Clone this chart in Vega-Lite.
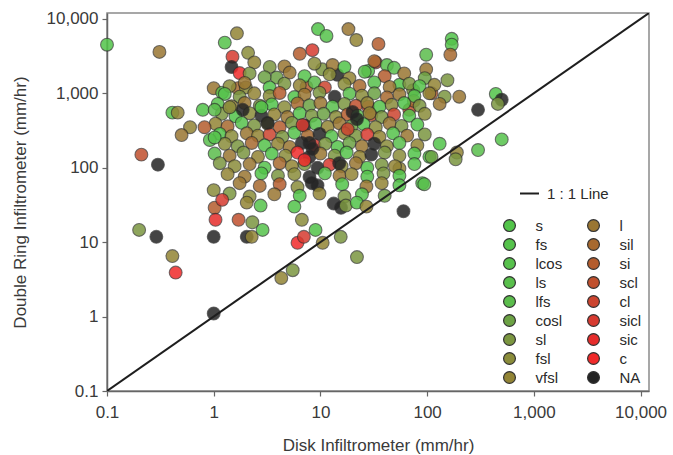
{
  "$schema": "https://vega.github.io/schema/vega-lite/v6.json",
  "width": 542,
  "height": 378,
  "autosize": {"type": "none"},
  "padding": {"left": 107, "top": 13, "right": 24, "bottom": 64},
  "background": "white",
  "config": {
    "font": "Liberation Sans",
    "view": {"stroke": "#8a8a8a", "strokeWidth": 1.5},
    "axis": {"grid": false, "domainColor": "#666", "domainWidth": 1.5, "tickColor": "#666", "tickWidth": 1.2, "tickSize": 5, "labelFont": "Liberation Sans", "labelFontSize": 17, "labelColor": "#3a3a3a", "titleFont": "Liberation Sans", "titleFontSize": 17, "titleFontWeight": "normal", "titleColor": "#3a3a3a"}
  },
  "datasets": {
    "pts": [
      {"disk":0.1,"ring":4500,"texture":"s"},{"disk":0.31,"ring":3600,"texture":"l"},{"disk":1.27,"ring":4800,"texture":"fs"},{"disk":1.65,"ring":6400,"texture":"vfsl"},{"disk":1.5,"ring":3100,"texture":"sicl"},{"disk":2.1,"ring":3500,"texture":"fsl"},{"disk":6.4,"ring":3400,"texture":"si"},{"disk":8.4,"ring":3800,"texture":"sicl"},{"disk":9.5,"ring":7300,"texture":"s"},{"disk":11.4,"ring":5900,"texture":"fs"},{"disk":18.3,"ring":7300,"texture":"l"},{"disk":21.7,"ring":5200,"texture":"vfsl"},{"disk":35,"ring":4600,"texture":"si"},{"disk":33,"ring":2600,"texture":"cl"},{"disk":42,"ring":2400,"texture":"ls"},{"disk":98,"ring":3300,"texture":"lfs"},{"disk":98,"ring":2100,"texture":"l"},{"disk":170,"ring":5400,"texture":"s"},{"disk":170,"ring":4500,"texture":"fs"},{"disk":165,"ring":3300,"texture":"sil"},{"disk":155,"ring":1500,"texture":"sl"},{"disk":1.47,"ring":2260,"texture":"NA"},{"disk":1.75,"ring":1870,"texture":"c"},{"disk":7.4,"ring":1220,"texture":"si"},
      {"disk":1.0,"ring":1170,"texture":"l"},{"disk":1.2,"ring":1020,"texture":"ls"},{"disk":1.68,"ring":1170,"texture":"sil"},{"disk":2.0,"ring":1200,"texture":"fsl"},{"disk":3.35,"ring":2260,"texture":"sl"},{"disk":3.9,"ring":1630,"texture":"cosl"},{"disk":10.4,"ring":2100,"texture":"sl"},{"disk":14.4,"ring":1770,"texture":"NA"},{"disk":13,"ring":2400,"texture":"l"},{"disk":28,"ring":2000,"texture":"fs"},{"disk":55,"ring":1300,"texture":"s"},{"disk":74,"ring":1100,"texture":"sl"},{"disk":110,"ring":1000,"texture":"si"},{"disk":68,"ring":600,"texture":"scl"},{"disk":75,"ring":790,"texture":"sil"},{"disk":28,"ring":660,"texture":"sicl"},{"disk":30,"ring":510,"texture":"scl"},
      {"disk":440,"ring":980,"texture":"s"},{"disk":500,"ring":820,"texture":"NA"},{"disk":460,"ring":720,"texture":"sl"},{"disk":300,"ring":600,"texture":"NA"},{"disk":500,"ring":240,"texture":"fs"},{"disk":300,"ring":173,"texture":"ls"},{"disk":190,"ring":160,"texture":"vfsl"},{"disk":185,"ring":130,"texture":"sl"},{"disk":55,"ring":98,"texture":"vfsl"},{"disk":90,"ring":62,"texture":"s"},{"disk":105,"ring":140,"texture":"s"},{"disk":200,"ring":900,"texture":"l"},
      {"disk":2.4,"ring":2600,"texture":"vfsl"},{"disk":4.6,"ring":2300,"texture":"l"},{"disk":8.8,"ring":2500,"texture":"fsl"},{"disk":16.8,"ring":2250,"texture":"s"},{"disk":32,"ring":2700,"texture":"sil"},{"disk":49,"ring":2200,"texture":"ls"},
      {"disk":2.17,"ring":1850,"texture":"sl"},{"disk":3.0,"ring":1650,"texture":"cosl"},{"disk":5.15,"ring":1900,"texture":"l"},{"disk":7.1,"ring":1700,"texture":"fs"},{"disk":12.2,"ring":1800,"texture":"fsl"},{"disk":18.7,"ring":1600,"texture":"vfsl"},{"disk":26,"ring":1950,"texture":"ls"},{"disk":40,"ring":1700,"texture":"si"},{"disk":61,"ring":1850,"texture":"l"},{"disk":95,"ring":1600,"texture":"cosl"},
      {"disk":1.41,"ring":1250,"texture":"fsl"},{"disk":1.95,"ring":1380,"texture":"l"},{"disk":3.34,"ring":1200,"texture":"s"},{"disk":4.6,"ring":1350,"texture":"sl"},{"disk":6.4,"ring":1280,"texture":"vfsl"},{"disk":8.8,"ring":1400,"texture":"lfs"},{"disk":11,"ring":1200,"texture":"cl"},{"disk":16.8,"ring":1330,"texture":"fsl"},{"disk":23.3,"ring":1260,"texture":"sil"},{"disk":32,"ring":1400,"texture":"lcos"},{"disk":44.5,"ring":1220,"texture":"l"},{"disk":68,"ring":1350,"texture":"sl"},{"disk":85,"ring":1250,"texture":"fs"},{"disk":117,"ring":1300,"texture":"vfsl"},
      {"disk":1.27,"ring":980,"texture":"fs"},{"disk":1.75,"ring":900,"texture":"sl"},{"disk":2.4,"ring":1000,"texture":"vfsl"},{"disk":3.34,"ring":920,"texture":"fsl"},{"disk":4.15,"ring":1010,"texture":"si"},{"disk":5.7,"ring":890,"texture":"s"},{"disk":7.1,"ring":960,"texture":"l"},{"disk":9.8,"ring":1020,"texture":"sl"},{"disk":13.6,"ring":900,"texture":"NA"},{"disk":18.7,"ring":990,"texture":"ls"},{"disk":24.5,"ring":930,"texture":"fsl"},{"disk":32,"ring":1000,"texture":"cosl"},{"disk":42,"ring":880,"texture":"sil"},{"disk":55,"ring":970,"texture":"l"},{"disk":76,"ring":920,"texture":"fs"},{"disk":105,"ring":1000,"texture":"vfsl"},{"disk":146,"ring":900,"texture":"sl"},
      {"disk":1.09,"ring":720,"texture":"lcos"},{"disk":1.47,"ring":670,"texture":"vfsl"},{"disk":1.95,"ring":740,"texture":"l"},{"disk":2.7,"ring":680,"texture":"sl"},{"disk":3.5,"ring":710,"texture":"s"},{"disk":4.6,"ring":650,"texture":"fsl"},{"disk":6.1,"ring":730,"texture":"sil"},{"disk":7.9,"ring":690,"texture":"cosl"},{"disk":10,"ring":740,"texture":"l"},{"disk":13,"ring":660,"texture":"ls"},{"disk":16.8,"ring":720,"texture":"sl"},{"disk":21.5,"ring":680,"texture":"scl"},{"disk":27.5,"ring":740,"texture":"vfsl"},{"disk":35.8,"ring":660,"texture":"fs"},{"disk":46.5,"ring":700,"texture":"fsl"},{"disk":61,"ring":740,"texture":"s"},{"disk":85,"ring":680,"texture":"sl"},{"disk":131,"ring":720,"texture":"l"},
      {"disk":1.19,"ring":530,"texture":"sl"},{"disk":1.6,"ring":490,"texture":"s"},{"disk":2.17,"ring":540,"texture":"fsl"},{"disk":2.8,"ring":500,"texture":"NA"},{"disk":3.7,"ring":520,"texture":"vfsl"},{"disk":4.9,"ring":480,"texture":"l"},{"disk":6.4,"ring":540,"texture":"fs"},{"disk":8.3,"ring":500,"texture":"sl"},{"disk":10.7,"ring":530,"texture":"cosl"},{"disk":14,"ring":480,"texture":"fsl"},{"disk":18,"ring":520,"texture":"si"},{"disk":22.3,"ring":500,"texture":"lfs"},{"disk":28.9,"ring":540,"texture":"vfsl"},{"disk":37.5,"ring":480,"texture":"sl"},{"disk":49,"ring":520,"texture":"cl"},{"disk":68,"ring":500,"texture":"fs"},{"disk":95,"ring":530,"texture":"fsl"},
      {"disk":1.04,"ring":390,"texture":"vfsl"},{"disk":1.35,"ring":360,"texture":"sil"},{"disk":1.83,"ring":400,"texture":"lcos"},{"disk":2.4,"ring":370,"texture":"sl"},{"disk":3.2,"ring":390,"texture":"fsl"},{"disk":4.15,"ring":350,"texture":"si"},{"disk":5.4,"ring":400,"texture":"sl"},{"disk":7.1,"ring":370,"texture":"NA"},{"disk":9,"ring":390,"texture":"ls"},{"disk":11.7,"ring":355,"texture":"vfsl"},{"disk":15.1,"ring":395,"texture":"l"},{"disk":19.6,"ring":365,"texture":"cosl"},{"disk":25.4,"ring":385,"texture":"fs"},{"disk":33,"ring":350,"texture":"fsl"},{"disk":44.5,"ring":395,"texture":"l"},{"disk":57.6,"ring":365,"texture":"sl"},{"disk":81,"ring":380,"texture":"s"},
      {"disk":1.14,"ring":285,"texture":"s"},{"disk":1.47,"ring":265,"texture":"fsl"},{"disk":2.04,"ring":290,"texture":"l"},{"disk":2.6,"ring":270,"texture":"vfsl"},{"disk":3.34,"ring":280,"texture":"cl"},{"disk":4.4,"ring":260,"texture":"sl"},{"disk":5.7,"ring":295,"texture":"fs"},{"disk":7.6,"ring":270,"texture":"sil"},{"disk":9.8,"ring":285,"texture":"NA"},{"disk":12.7,"ring":265,"texture":"lcos"},{"disk":16.8,"ring":290,"texture":"fsl"},{"disk":21.5,"ring":270,"texture":"sl"},{"disk":27.5,"ring":280,"texture":"sicl"},{"disk":35.8,"ring":260,"texture":"vfsl"},{"disk":48,"ring":290,"texture":"fs"},{"disk":65,"ring":270,"texture":"l"},{"disk":95,"ring":280,"texture":"sl"},
      {"disk":1.27,"ring":210,"texture":"fsl"},{"disk":1.68,"ring":195,"texture":"sl"},{"disk":2.27,"ring":215,"texture":"sil"},{"disk":3.0,"ring":200,"texture":"fs"},{"disk":4,"ring":210,"texture":"vfsl"},{"disk":5.15,"ring":190,"texture":"l"},{"disk":6.7,"ring":215,"texture":"NA"},{"disk":8.8,"ring":200,"texture":"sicl"},{"disk":11.1,"ring":210,"texture":"sl"},{"disk":14.5,"ring":190,"texture":"fs"},{"disk":18.7,"ring":215,"texture":"cosl"},{"disk":24.5,"ring":195,"texture":"l"},{"disk":32,"ring":210,"texture":"NA"},{"disk":42,"ring":195,"texture":"fsl"},{"disk":55,"ring":215,"texture":"ls"},{"disk":81,"ring":200,"texture":"vfsl"},{"disk":131,"ring":210,"texture":"s"},
      {"disk":1.02,"ring":155,"texture":"lfs"},{"disk":1.41,"ring":145,"texture":"l"},{"disk":1.9,"ring":160,"texture":"sl"},{"disk":2.6,"ring":140,"texture":"vfsl"},{"disk":3.5,"ring":155,"texture":"s"},{"disk":4.7,"ring":145,"texture":"fsl"},{"disk":6.1,"ring":160,"texture":"c"},{"disk":7.9,"ring":140,"texture":"NA"},{"disk":10,"ring":155,"texture":"l"},{"disk":13.6,"ring":145,"texture":"sl"},{"disk":17.6,"ring":160,"texture":"fs"},{"disk":23.3,"ring":140,"texture":"vfsl"},{"disk":30,"ring":150,"texture":"NA"},{"disk":40,"ring":160,"texture":"sl"},{"disk":55,"ring":145,"texture":"fsl"},{"disk":76,"ring":155,"texture":"s"},{"disk":110,"ring":140,"texture":"cosl"},
      {"disk":1.14,"ring":115,"texture":"sl"},{"disk":1.57,"ring":105,"texture":"fsl"},{"disk":2.17,"ring":112,"texture":"l"},{"disk":3.0,"ring":100,"texture":"fs"},{"disk":4.15,"ring":115,"texture":"sil"},{"disk":5.4,"ring":105,"texture":"vfsl"},{"disk":7.1,"ring":112,"texture":"sl"},{"disk":9.4,"ring":100,"texture":"NA"},{"disk":12.2,"ring":110,"texture":"sicl"},{"disk":15.8,"ring":105,"texture":"fsl"},{"disk":21.5,"ring":115,"texture":"l"},{"disk":27.5,"ring":100,"texture":"s"},{"disk":37.5,"ring":110,"texture":"sl"},{"disk":50,"ring":105,"texture":"vfsl"},{"disk":76,"ring":112,"texture":"fs"},
      {"disk":1.35,"ring":82,"texture":"vfsl"},{"disk":1.95,"ring":76,"texture":"l"},{"disk":2.8,"ring":84,"texture":"s"},{"disk":4,"ring":78,"texture":"sl"},{"disk":5.7,"ring":82,"texture":"fsl"},{"disk":7.9,"ring":75,"texture":"NA"},{"disk":11,"ring":84,"texture":"ls"},{"disk":15.1,"ring":78,"texture":"l"},{"disk":19.6,"ring":82,"texture":"vfsl"},{"disk":27.5,"ring":76,"texture":"fs"},{"disk":39,"ring":84,"texture":"sl"},{"disk":55,"ring":78,"texture":"s"},
      {"disk":1.75,"ring":62,"texture":"l"},{"disk":2.7,"ring":57,"texture":"sil"},{"disk":4.15,"ring":60,"texture":"si"},{"disk":6.1,"ring":55,"texture":"fsl"},{"disk":8.3,"ring":62,"texture":"NA"},{"disk":9.4,"ring":58,"texture":"NA"},{"disk":16,"ring":60,"texture":"s"},{"disk":27,"ring":56,"texture":"l"},{"disk":37.5,"ring":62,"texture":"vfsl"},{"disk":55,"ring":58,"texture":"fs"},{"disk":94,"ring":60,"texture":"ls"},
      {"disk":1.41,"ring":45,"texture":"sl"},{"disk":2.17,"ring":41,"texture":"fsl"},{"disk":3.7,"ring":44,"texture":"l"},{"disk":6.4,"ring":42,"texture":"s"},{"disk":9.8,"ring":45,"texture":"vfsl"},{"disk":16.8,"ring":41,"texture":"sl"},{"disk":24.5,"ring":44,"texture":"fs"},{"disk":40,"ring":42,"texture":"cosl"},
      {"disk":1.0,"ring":50,"texture":"fsl"},{"disk":1.02,"ring":29,"texture":"si"},{"disk":1.2,"ring":37,"texture":"sicl"},{"disk":2.04,"ring":34,"texture":"vfsl"},{"disk":2.75,"ring":31,"texture":"fs"},{"disk":5.7,"ring":30,"texture":"s"},{"disk":13.3,"ring":33,"texture":"NA"},{"disk":15.6,"ring":29,"texture":"NA"},{"disk":17.3,"ring":31,"texture":"sl"},{"disk":21.9,"ring":34,"texture":"s"},{"disk":27,"ring":30,"texture":"vfsl"},
      {"disk":1.04,"ring":20,"texture":"sic"},{"disk":1.71,"ring":20,"texture":"scl"},{"disk":2.3,"ring":18.5,"texture":"sl"},{"disk":2.04,"ring":11.8,"texture":"NA"},{"disk":2.27,"ring":11.8,"texture":"vfsl"},{"disk":2.87,"ring":14.6,"texture":"fs"},{"disk":6.7,"ring":20,"texture":"fsl"},{"disk":9,"ring":14.6,"texture":"s"},{"disk":6.1,"ring":9.8,"texture":"c"},{"disk":7,"ring":11.8,"texture":"sicl"},{"disk":10.5,"ring":9.8,"texture":"vfsl"},{"disk":15.5,"ring":11.8,"texture":"sl"},{"disk":22,"ring":6.3,"texture":"sl"},{"disk":4.3,"ring":3.3,"texture":"vfsl"},{"disk":5.5,"ring":4.2,"texture":"sl"},{"disk":1.0,"ring":1.1,"texture":"NA"},{"disk":60,"ring":26,"texture":"NA"},{"disk":1.0,"ring":11.8,"texture":"NA"},
      {"disk":0.2,"ring":14.6,"texture":"sl"},{"disk":0.29,"ring":11.8,"texture":"NA"},{"disk":0.41,"ring":6.5,"texture":"vfsl"},{"disk":0.44,"ring":3.9,"texture":"c"},{"disk":0.21,"ring":150,"texture":"scl"},{"disk":0.3,"ring":110,"texture":"NA"},{"disk":0.41,"ring":550,"texture":"fs"},{"disk":0.46,"ring":550,"texture":"vfsl"},{"disk":0.6,"ring":350,"texture":"vfsl"},{"disk":0.82,"ring":350,"texture":"si"},{"disk":0.5,"ring":275,"texture":"l"},{"disk":0.92,"ring":236,"texture":"ls"},{"disk":1.02,"ring":255,"texture":"fs"},{"disk":0.79,"ring":600,"texture":"s"},{"disk":1.02,"ring":600,"texture":"lfs"},{"disk":1.41,"ring":650,"texture":"fsl"},
      {"disk":1.87,"ring":600,"texture":"NA"},{"disk":3.2,"ring":400,"texture":"NA"},{"disk":2.8,"ring":650,"texture":"s"},{"disk":6.8,"ring":375,"texture":"sicl"},{"disk":7.9,"ring":215,"texture":"NA"},{"disk":8.4,"ring":180,"texture":"NA"},{"disk":7.1,"ring":127,"texture":"c"},{"disk":15,"ring":115,"texture":"NA"},{"disk":20,"ring":560,"texture":"NA"},{"disk":22,"ring":450,"texture":"NA"},{"disk":18,"ring":330,"texture":"cl"}
    ],
    "line": [
      {"disk":0.1,"ring":0.1,"lbl":"1 : 1 Line"},
      {"disk":12000,"ring":12000,"lbl":"1 : 1 Line"}
    ]
  },
  "layer": [
    {
      "data": {"name": "pts"},
      "mark": {"type": "circle", "size": 165, "opacity": 0.85, "stroke": "#2a2a2a", "strokeWidth": 1.1, "strokeOpacity": 0.75},
      "encoding": {
        "x": {"field": "disk", "type": "quantitative", "scale": {"type": "log", "domain": [0.1, 12000], "nice": false},
              "axis": {"values": [0.1, 1, 10, 100, 1000, 10000], "format": ",", "title": "Disk Infiltrometer (mm/hr)", "labelPadding": 8, "titleY": 54, "titleBaseline": "middle", "labelFlush": false}},
        "y": {"field": "ring", "type": "quantitative", "scale": {"type": "log", "domain": [0.1, 12000], "nice": false},
              "axis": {"values": [0.1, 1, 10, 100, 1000, 10000], "format": ",", "title": "Double Ring Infiltrometer (mm/hr)", "labelPadding": 4, "titleX": -87, "titleY": 189, "titleBaseline": "middle", "titleAngle": -90, "labelFlush": false}},
        "fill": {"field": "texture", "type": "nominal",
                 "scale": {"domain": ["s","fs","lcos","ls","lfs","cosl","sl","fsl","vfsl","l","sil","si","scl","cl","sicl","sic","c","NA"],
                           "range": ["#52c449","#55c34b","#57c14c","#59bf4c","#5bbd4c","#6ca244","#7b9640","#8a8c3a","#928435","#9a7632","#a7692f","#b45c2d","#c0502d","#cc442f","#d73a30","#e62c2b","#f02a2a","#242424"]},
                 "legend": {"orient": "none", "legendX": 395, "legendY": 205, "columns": 2, "title": null, "symbolType": "circle", "symbolSize": 140, "symbolStrokeColor": "#333", "symbolStrokeWidth": 1.2, "symbolOpacity": 1, "labelFontSize": 15, "labelFont": "Liberation Sans", "labelColor": "#2a2a2a", "labelOffset": 18.5, "columnPadding": 22, "rowPadding": 2, "padding": 0}}
      }
    },
    {
      "data": {"name": "line"},
      "mark": {"type": "line", "strokeWidth": 2, "clip": true},
      "encoding": {
        "x": {"field": "disk", "type": "quantitative"},
        "y": {"field": "ring", "type": "quantitative"},
        "stroke": {"field": "lbl", "type": "nominal", "scale": {"range": ["#1e1e1e"]},
                   "legend": {"orient": "none", "legendX": 412, "legendY": 170, "title": null, "symbolType": "stroke", "symbolSize": 361, "symbolStrokeWidth": 2, "labelFontSize": 15, "labelFont": "Liberation Sans", "labelColor": "#2a2a2a", "labelOffset": 7, "padding": 0}}
      }
    }
  ]
}
